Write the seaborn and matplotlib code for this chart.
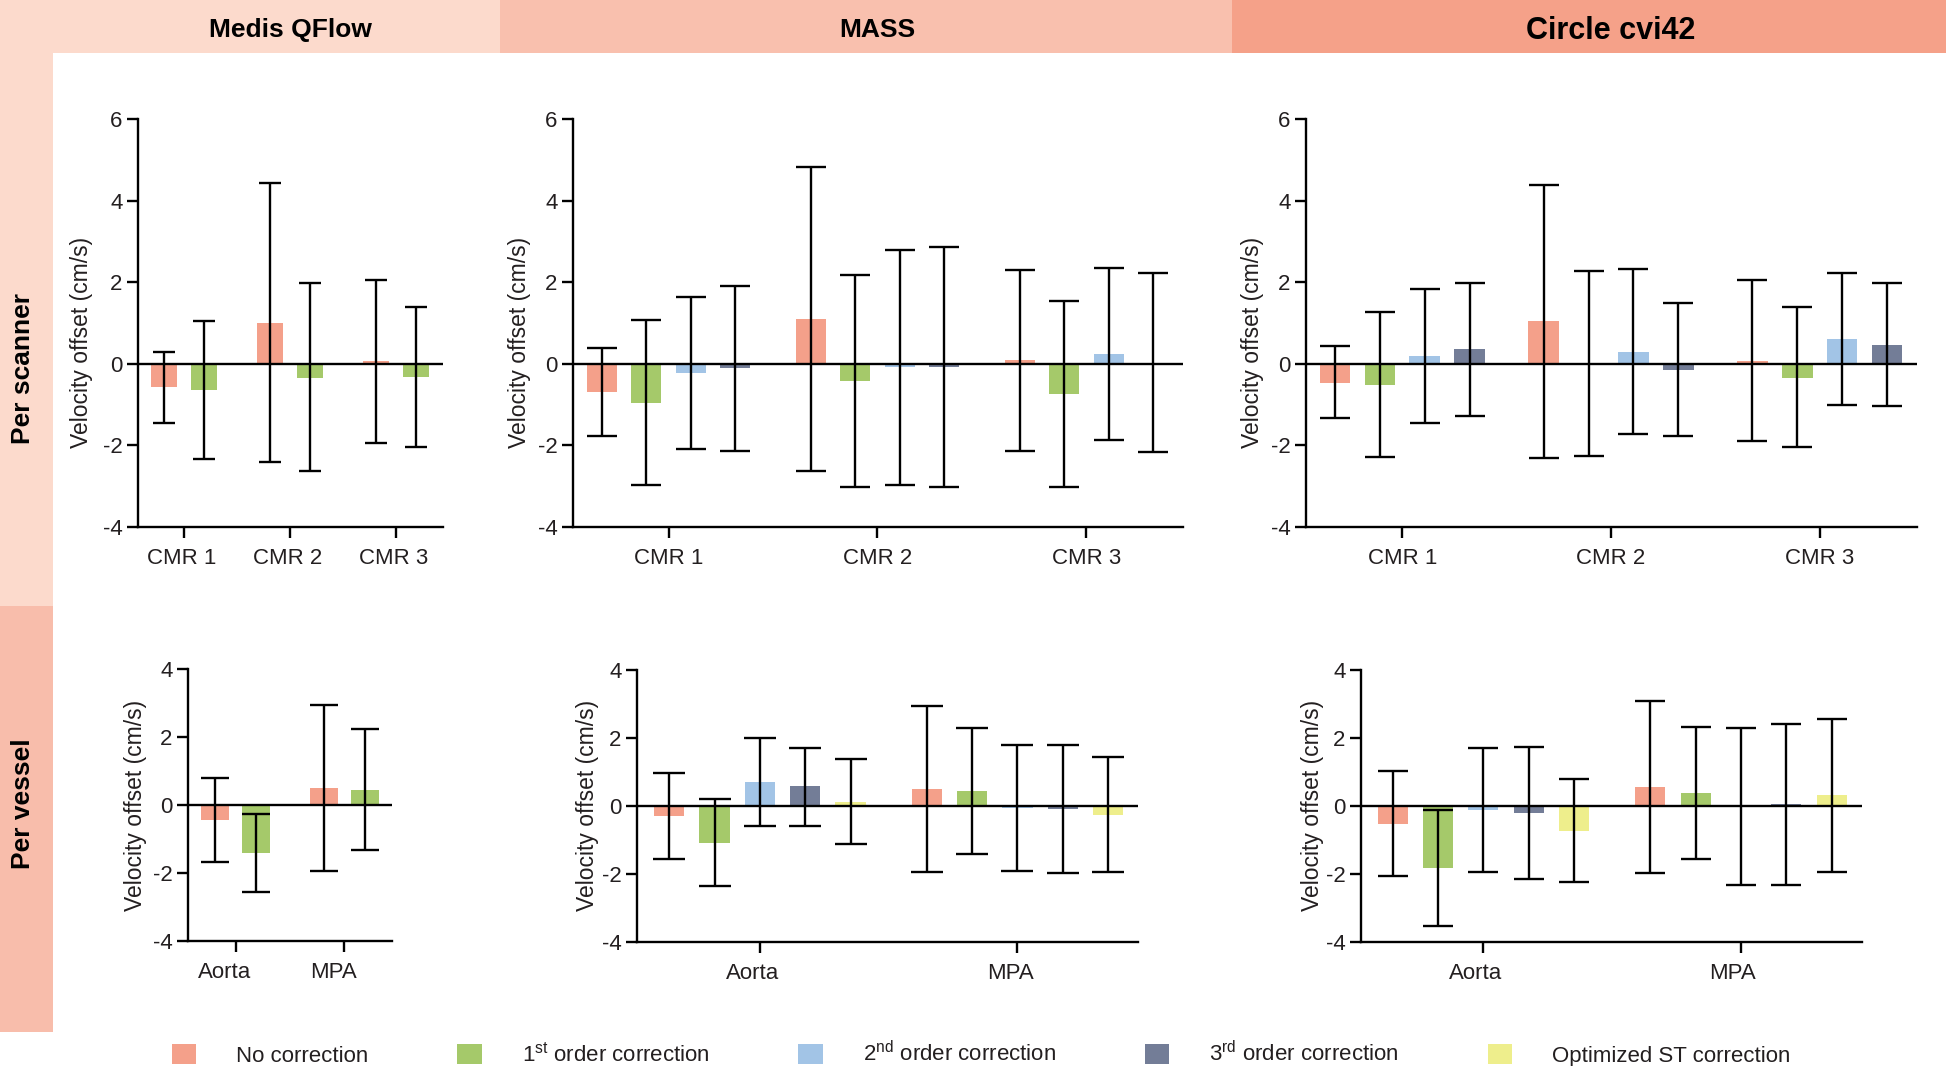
import numpy as np
import pandas as pd
import matplotlib
matplotlib.use("Agg")
import matplotlib.pyplot as plt
import seaborn as sns
from matplotlib.patches import Patch, Rectangle
from matplotlib.colors import to_rgba
from matplotlib.transforms import ScaledTranslation

# ---------------- data ----------------
methods = ["No correction", "1st order correction", "2nd order correction",
           "3rd order correction", "Optimized ST correction"]
legend_labels = ["No correction", r"1$^{\mathrm{st}}$ order correction",
                 r"2$^{\mathrm{nd}}$ order correction", r"3$^{\mathrm{rd}}$ order correction",
                 "Optimized ST correction"]
palette = ["#F4A08A", "#A5C96A", "#A2C4E6", "#737D97", "#EEEE8C"]
scanners = ["CMR 1", "CMR 2", "CMR 3"]
vessels = ["Aorta", "MPA"]
software = ["Medis QFlow", "MASS", "Circle cvi42"]
rows_labels = ["Per scanner", "Per vessel"]
ylabel = "Velocity offset (cm/s)"

# rows = method, columns = category
qflow_scanner_mean = [[-0.57, 1.00, 0.06], [-0.65, -0.34, -0.33]]
qflow_scanner_low = [[-1.46, -2.41, -1.93], [-2.33, -2.63, -2.05]]
qflow_scanner_high = [[0.29, 4.42, 2.06], [1.04, 1.98, 1.40]]

mass_scanner_mean = [[-0.70, 1.10, 0.09], [-0.96, -0.41, -0.74], [-0.23, -0.09, 0.24], [-0.11, -0.07, 0.01]]
mass_scanner_low = [[-1.78, -2.62, -2.13], [-2.98, -3.01, -3.01], [-2.10, -2.97, -1.86], [-2.13, -3.02, -2.16]]
mass_scanner_high = [[0.39, 4.83, 2.31], [1.07, 2.18, 1.55], [1.64, 2.79, 2.35], [1.91, 2.87, 2.22]]

circle_scanner_mean = [[-0.46, 1.04, 0.08], [-0.52, 0.01, -0.34], [0.20, 0.30, 0.60], [0.36, -0.14, 0.47]]
circle_scanner_low = [[-1.33, -2.32, -1.89], [-2.28, -2.25, -2.05], [-1.44, -1.73, -1.02], [-1.27, -1.76, -1.04]]
circle_scanner_high = [[0.43, 4.39, 2.06], [1.26, 2.27, 1.40], [1.84, 2.33, 2.22], [1.99, 1.50, 1.99]]

qflow_vessel_mean = [[-0.45, 0.51], [-1.41, 0.45]]
qflow_vessel_low = [[-1.69, -1.94], [-2.55, -1.33]]
qflow_vessel_high = [[0.80, 2.95], [-0.26, 2.24]]

mass_vessel_mean = [[-0.29, 0.50], [-1.08, 0.44], [0.71, -0.06], [0.58, -0.09], [0.13, -0.25]]
mass_vessel_low = [[-1.55, -1.93], [-2.36, -1.42], [-0.60, -1.90], [-0.58, -1.96], [-1.13, -1.93]]
mass_vessel_high = [[0.97, 2.94], [0.20, 2.30], [2.00, 1.80], [1.71, 1.79], [1.39, 1.44]]

circle_vessel_mean = [[-0.52, 0.56], [-1.83, 0.38], [-0.11, 0.00], [-0.20, 0.05], [-0.73, 0.32]]
circle_vessel_low = [[-2.07, -1.98], [-3.53, -1.56], [-1.95, -2.33], [-2.14, -2.32], [-2.24, -1.93]]
circle_vessel_high = [[1.03, 3.08], [-0.12, 2.33], [1.72, 2.28], [1.74, 2.42], [0.80, 2.57]]

# ---------------- style ----------------
sns.set_style("ticks")
plt.rcParams["font.family"] = ["Liberation Sans", "DejaVu Sans"]
plt.rcParams["axes.unicode_minus"] = False
plt.rcParams["mathtext.fontset"] = "custom"
plt.rcParams["mathtext.rm"] = "Liberation Sans"
plt.rcParams["mathtext.it"] = "Liberation Sans:italic"
plt.rcParams["mathtext.bf"] = "Liberation Sans:bold"
TXT = "#231f20"
LW = 1.7

W, H = 1946, 1066
fig = plt.figure(figsize=(W / 100, H / 100), dpi=100)
fig.patch.set_facecolor("white")


def frac_rect(x0, y0, x1, y1):
    return [x0 / W, 1 - y1 / H, (x1 - x0) / W, (y1 - y0) / H]


def bg(x0, y0, x1, y1, color):
    fig.patches.append(Rectangle((x0 / W, 1 - y1 / H), (x1 - x0) / W, (y1 - y0) / H,
                                 transform=fig.transFigure, facecolor=color,
                                 edgecolor="none", zorder=0))


# header band and row bands
bg(0, 0, 500, 53, "#FCDACC")
bg(500, 0, 1232, 53, "#F9C0AE")
bg(1232, 0, W, 53, "#F5A189")
bg(0, 53, 53, 606, "#FCDACC")
bg(0, 606, 53, 1032, "#F8BDAB")

fig.text(290 / W, 1 - 37 / H, software[0], ha="center", va="baseline",
         fontsize=19, fontweight="bold", color="black")
fig.text(877 / W, 1 - 37 / H, software[1], ha="center", va="baseline",
         fontsize=19, fontweight="bold", color="black")
fig.text(1611 / W, 1 - 39 / H, software[2], ha="center", va="baseline",
         fontsize=22, fontweight="bold", color="black")
fig.text(23 / W, 1 - 368 / H, rows_labels[0], ha="center", va="center", rotation=90,
         fontsize=19, fontweight="bold", color="black")
fig.text(23 / W, 1 - 804 / H, rows_labels[1], ha="center", va="center", rotation=90,
         fontsize=19, fontweight="bold", color="black")


def panel(box, cats, means, lows, highs, xlim, ylim, yticks, width, gap, label_dx, label_yc,
          capsize, xlab_shift=0):
    x0, y0, x1, y1 = box
    ax = fig.add_axes(frac_rect(*box))
    n = len(means)
    hue_order = methods[:n]
    rows = []
    for j in range(n):
        for i, c in enumerate(cats):
            rows.append({"cat": c, "method": methods[j], "mean": means[j][i]})
    df = pd.DataFrame(rows)
    sns.barplot(data=df, x="cat", y="mean", hue="method", order=cats, hue_order=hue_order,
                palette=palette[:n], width=width, gap=gap, saturation=1, errorbar=None,
                legend=False, ax=ax, linewidth=0, zorder=2)
    cols = [np.array(to_rgba(p)) for p in palette[:n]]
    for bar in ax.patches:
        fc = np.array(bar.get_facecolor())
        j = int(np.argmin([np.abs(fc - c).sum() for c in cols]))
        xc = bar.get_x() + bar.get_width() / 2
        i = int(round(xc))
        m = means[j][i]
        ax.errorbar(xc, m, yerr=[[m - lows[j][i]], [highs[j][i] - m]], fmt="none",
                    ecolor="black", elinewidth=LW, capsize=capsize, capthick=LW, zorder=5)
    ax.axhline(0, color="black", lw=LW, zorder=4)
    ax.set_xlim(*xlim)
    ax.set_ylim(*ylim)
    ax.set_yticks(yticks)
    ax.set_yticklabels([str(v) for v in yticks])
    ax.set_xlabel("")
    ax.set_ylabel(ylabel, fontsize=16.5, color=TXT)
    ax.yaxis.set_label_coords(label_dx / (x1 - x0), 1 - (label_yc - y0) / (y1 - y0))
    sns.despine(ax=ax)
    for s in ["left", "bottom"]:
        ax.spines[s].set_linewidth(LW)
        ax.spines[s].set_color("black")
    ax.tick_params(axis="y", length=8, width=LW, pad=3, labelsize=16, labelcolor=TXT, color="black")
    ax.tick_params(axis="x", length=8, width=LW, pad=7, labelsize=16, labelcolor=TXT, color="black")
    if xlab_shift:
        off = ScaledTranslation(xlab_shift / 100, 0, fig.dpi_scale_trans)
        for lab in ax.get_xticklabels():
            lab.set_transform(lab.get_transform() + off)
    ax.set_facecolor("none")
    return ax


top_ticks = [-4, -2, 0, 2, 4, 6]
bot_ticks = [-4, -2, 0, 2, 4]

panel((138, 119, 443, 527), scanners, qflow_scanner_mean, qflow_scanner_low, qflow_scanner_high,
      (-0.434, 2.443), (-4, 6), top_ticks, 0.755, 0.337, -45, 342, 8, -2)
panel((573, 119, 1183, 527), scanners, mass_scanner_mean, mass_scanner_low, mass_scanner_high,
      (-0.457, 2.462), (-4, 6), top_ticks, 0.852, 0.32, -42, 342, 11)
panel((1306, 119, 1917, 527), scanners, circle_scanner_mean, circle_scanner_low, circle_scanner_high,
      (-0.461, 2.466), (-4, 6), top_ticks, 0.86, 0.32, -42, 342, 11)
panel((188, 669, 392, 941), vessels, qflow_vessel_mean, qflow_vessel_low, qflow_vessel_high,
      (-0.44, 1.44), (-4, 4), bot_ticks, 0.755, 0.32, -41, 805, 10, -11)
panel((637, 670, 1138, 942), vessels, mass_vessel_mean, mass_vessel_low, mass_vessel_high,
      (-0.477, 1.468), (-4, 4), bot_ticks, 0.88, 0.335, -38, 805, 11.5, -7)
panel((1361, 670, 1862, 942), vessels, circle_vessel_mean, circle_vessel_low, circle_vessel_high,
      (-0.475, 1.47), (-4, 4), bot_ticks, 0.88, 0.335, -37, 805, 11, -8)

handles = [Patch(facecolor=c, edgecolor="none") for c in palette]
leg = fig.legend(handles, legend_labels, loc="center", bbox_to_anchor=(981 / W, 1 - 1054 / H),
                 ncol=5, frameon=False, fontsize=16, handlelength=1.1, handleheight=0.95,
                 handletextpad=1.8, columnspacing=4.0)
for t in leg.get_texts():
    t.set_color(TXT)

fig.savefig("out.png", dpi=100)
